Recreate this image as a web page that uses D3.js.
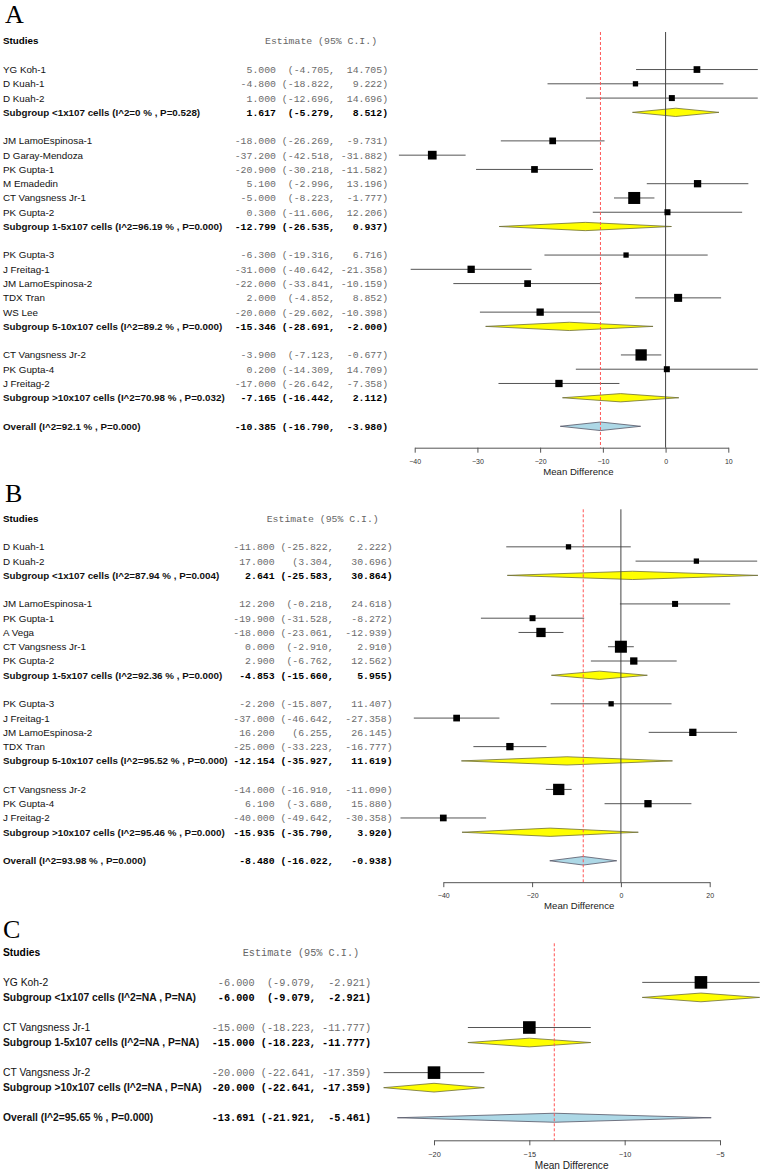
<!DOCTYPE html>
<html><head><meta charset="utf-8">
<script src="https://cdn.jsdelivr.net/npm/d3@7"></script>
<style>body{margin:0;background:#fff} text{white-space:pre}</style>
</head><body>
<svg id="chart" width="762" height="1170"></svg>
<script>
// ---------- Panel A ----------
const aNames = ["YG Koh-1","D Kuah-1","D Kuah-2","JM LamoEspinosa-1","D Garay-Mendoza","PK Gupta-1","M Emadedin","CT Vangsness Jr-1","PK Gupta-2","PK Gupta-3","J Freitag-1","JM LamoEspinosa-2","TDX Tran","WS Lee","CT Vangsness Jr-2","PK Gupta-4","J Freitag-2"];
const aGroup = [0,0,0,1,1,1,1,1,1,2,2,2,2,2,3,3,3];
const aEst = [5.0,-4.8,1.0,-18.0,-37.2,-20.9,5.1,-5.0,0.3,-6.3,-31.0,-22.0,2.0,-20.0,-3.9,0.2,-17.0];
const aLo = [-4.705,-18.822,-12.696,-26.269,-42.518,-30.218,-2.996,-8.223,-11.606,-19.316,-40.642,-33.841,-4.852,-29.602,-7.123,-14.309,-26.642];
const aHi = [14.705,9.222,14.696,-9.731,-31.882,-11.582,13.196,-1.777,12.206,6.716,-21.358,-10.159,8.852,-10.398,-0.677,14.709,-7.358];
const aWeight = [6.7,5.3,6.0,6.7,8.7,6.7,7.3,12.0,6.0,5.3,7.3,6.7,8.0,7.3,11.3,6.0,7.3];
const aSubLabel = ["Subgroup <1x107 cells (I^2=0 % , P=0.528)","Subgroup 1-5x107 cells (I^2=96.19 % , P=0.000)","Subgroup 5-10x107 cells (I^2=89.2 % , P=0.000)","Subgroup >10x107 cells (I^2=70.98 % , P=0.032)"];
const aSubEst = [1.617,-12.799,-15.346,-7.165];
const aSubLo = [-5.279,-26.535,-28.691,-16.442];
const aSubHi = [8.512,0.937,-2.000,2.112];
const aOverall = ["Overall (I^2=92.1 % , P=0.000)", -10.385, -16.790, -3.980];
const aTicks = [-40,-30,-20,-10,0,10];

// ---------- Panel B ----------
const bNames = ["D Kuah-1","D Kuah-2","JM LamoEspinosa-1","PK Gupta-1","A Vega","CT Vangsness Jr-1","PK Gupta-2","PK Gupta-3","J Freitag-1","JM LamoEspinosa-2","TDX Tran","CT Vangsness Jr-2","PK Gupta-4","J Freitag-2"];
const bGroup = [0,0,1,1,1,1,1,2,2,2,2,3,3,3];
const bEst = [-11.8,17.0,12.2,-19.9,-18.0,0.0,2.9,-2.2,-37.0,16.2,-25.0,-14.0,6.1,-40.0];
const bLo = [-25.822,3.304,-0.218,-31.528,-23.061,-2.910,-6.762,-15.807,-46.642,6.255,-33.223,-16.910,-3.680,-49.642];
const bHi = [2.222,30.696,24.618,-8.272,-12.939,2.910,12.562,11.407,-27.358,26.145,-16.777,-11.090,15.880,-30.358];
const bWeight = [5.3,5.3,6.0,6.0,9.3,12.0,7.3,5.3,6.7,7.3,7.3,11.3,7.3,6.7];
const bSubLabel = ["Subgroup <1x107 cells (I^2=87.94 % , P=0.004)","Subgroup 1-5x107 cells (I^2=92.36 % , P=0.000)","Subgroup 5-10x107 cells (I^2=95.52 % , P=0.000)","Subgroup >10x107 cells (I^2=95.46 % , P=0.000)"];
const bSubEst = [2.641,-4.853,-12.154,-15.935];
const bSubLo = [-25.583,-15.660,-35.927,-35.790];
const bSubHi = [30.864,5.955,11.619,3.920];
const bOverall = ["Overall (I^2=93.98 % , P=0.000)", -8.480, -16.022, -0.938];
const bTicks = [-40,-20,0,20];

// ---------- Panel C ----------
const cNames = ["YG Koh-2","CT Vangsness Jr-1","CT Vangsness Jr-2"];
const cGroup = [0,1,2];
const cEst = [-6.0,-15.0,-20.0];
const cLo = [-9.079,-18.223,-22.641];
const cHi = [-2.921,-11.777,-17.359];
const cWeight = [12,12,12];
const cSubLabel = ["Subgroup <1x107 cells (I^2=NA , P=NA)","Subgroup 1-5x107 cells (I^2=NA , P=NA)","Subgroup >10x107 cells (I^2=NA , P=NA)"];
const cSubEst = [-6.0,-15.0,-20.0];
const cSubLo = [-9.079,-18.223,-22.641];
const cSubHi = [-2.921,-11.777,-17.359];
const cOverall = ["Overall (I^2=95.65 % , P=0.000)", -13.691, -21.921, -5.461];
const cTicks = [-20,-15,-10,-5];

const panels = [
  {letter:"A", names:aNames, group:aGroup, est:aEst, lo:aLo, hi:aHi, w:aWeight,
   subLabel:aSubLabel, subEst:aSubEst, subLo:aSubLo, subHi:aSubHi, overall:aOverall, ticks:aTicks,
   L:{letterX:5, letterY:23, headerY:41, step:14.27, x0:414.7, x1:728.3, textX:234.7, hdrX:265, fs:9.8, mono:9.83, gap2:" ", k:1}},
  {letter:"B", names:bNames, group:bGroup, est:bEst, lo:bLo, hi:bHi, w:bWeight,
   subLabel:bSubLabel, subEst:bSubEst, subLo:bSubLo, subHi:bSubHi, overall:bOverall, ticks:bTicks,
   L:{letterX:5, letterY:502, headerY:518.3, step:14.27, x0:443.3, x1:709.7, textX:233.3, hdrX:266.7, fs:9.8, mono:9.83, gap2:"  ", k:1}},
  {letter:"C", names:cNames, group:cGroup, est:cEst, lo:cLo, hi:cHi, w:cWeight,
   subLabel:cSubLabel, subEst:cSubEst, subLo:cSubLo, subHi:cSubHi, overall:cOverall, ticks:cTicks,
   L:{letterX:3, letterY:938, headerY:952.3, step:15.04, x0:434, x1:720, textX:211.7, hdrX:242.7, fs:10.3, mono:10.23, gap2:" ", k:1.05}}
];

const svg = d3.select("#chart");
const SANS = "'Liberation Sans', Arial, sans-serif";
const MONO = "'Liberation Mono', 'Courier New', monospace";

function fmtCI(e, lo, hi, gap2){
  return e.toFixed(3).padStart(7) + " " + ("(" + lo.toFixed(3) + ",").padStart(9) + gap2 + hi.toFixed(3).padStart(7) + ")";
}

panels.forEach(p => {
  const L = p.L;
  const g = svg.append("g");
  const x = d3.scaleLinear().domain([p.ticks[0], p.ticks[p.ticks.length-1]]).range([L.x0, L.x1]);
  const size = d3.scaleLinear().domain([0, 12]).range([0, 12 * L.k]);

  // rows
  const rows = [];
  let i = 2;
  p.subLabel.forEach((lab, gi) => {
    p.names.forEach((n, k) => { if (p.group[k] === gi) rows.push({type:"study", k, row:i++}); });
    rows.push({type:"sub", g:gi, row:i++});
    i++;
  });
  rows.push({type:"overall", row:i});
  const y = r => L.headerY + r * L.step;
  const axisY = y(i + 1.5);
  const topY = L.headerY - 9;

  // letter
  g.append("text").attr("x", L.letterX).attr("y", L.letterY).text(p.letter)
    .attr("font-family", "'Liberation Serif', 'Times New Roman', serif").attr("font-size", 26).attr("fill", "#000");
  // headers
  g.append("text").attr("x", 3).attr("y", L.headerY).attr("dy", "0.35em").text("Studies")
    .attr("font-family", SANS).attr("font-size", L.fs).attr("font-weight", "bold");
  g.append("text").attr("x", L.hdrX).attr("y", L.headerY).attr("dy", "0.35em").text("Estimate (95% C.I.)")
    .attr("font-family", MONO).attr("font-size", L.mono).attr("fill", "#666");

  const allLo = d3.min(p.lo.concat(p.subLo, [p.overall[2]]));
  const allHi = d3.max(p.hi.concat(p.subHi, [p.overall[3]]));

  rows.forEach(r => {
    let label, e, lo, hi, bold, col;
    if (r.type === "study") { label = p.names[r.k]; e = p.est[r.k]; lo = p.lo[r.k]; hi = p.hi[r.k]; bold = false; }
    else if (r.type === "sub") { label = p.subLabel[r.g]; e = p.subEst[r.g]; lo = p.subLo[r.g]; hi = p.subHi[r.g]; bold = true; }
    else { label = p.overall[0]; e = p.overall[1]; lo = p.overall[2]; hi = p.overall[3]; bold = true; }
    const yy = y(r.row);
    g.append("text").attr("x", 3).attr("y", yy).attr("dy", "0.35em").text(label)
      .attr("font-family", SANS).attr("font-size", L.fs).attr("font-weight", bold ? "bold" : "normal").attr("fill", "#111");
    g.append("text").attr("x", L.textX).attr("y", yy).attr("dy", "0.35em").text(fmtCI(e, lo, hi, L.gap2))
      .attr("font-family", MONO).attr("font-size", L.mono).attr("font-weight", bold ? "bold" : "normal")
      .attr("fill", bold ? "#000" : "#6b6b6b");
    r.e = e; r.lo = lo; r.hi = hi; r.yy = yy;
  });

  // CI lines for studies
  rows.filter(r => r.type === "study").forEach(r => {
    g.append("line").attr("x1", x(r.lo)).attr("x2", x(r.hi)).attr("y1", r.yy).attr("y2", r.yy)
      .attr("stroke", "#555").attr("stroke-width", 1);
  });
  // diamonds
  rows.filter(r => r.type !== "study").forEach(r => {
    const h = (r.type === "sub" ? 0.29 : 0.3) * L.step;
    const pts = [[x(r.lo), r.yy], [x(r.e), r.yy - h], [x(r.hi), r.yy], [x(r.e), r.yy + h]];
    g.append("path").attr("d", "M" + pts.map(q => q.join(",")).join("L") + "Z")
      .attr("fill", r.type === "sub" ? "#ffff00" : "#add8e6")
      .attr("stroke", r.type === "sub" ? "#6e6e3a" : "#556")
      .attr("stroke-width", 0.8);
  });
  // zero line
  const dom = x.domain();
  if (0 >= dom[0] && 0 <= dom[1]) {
    g.append("line").attr("x1", x(0)).attr("x2", x(0)).attr("y1", topY).attr("y2", axisY)
      .attr("stroke", "#444").attr("stroke-width", 1);
  }
  // overall line
  g.append("line").attr("x1", x(p.overall[1])).attr("x2", x(p.overall[1])).attr("y1", topY).attr("y2", axisY)
    .attr("stroke", "#ff5555").attr("stroke-width", 1).attr("stroke-dasharray", "3,2");
  // squares
  rows.filter(r => r.type === "study").forEach(r => {
    const s = size(p.w[r.k]);
    g.append("rect").attr("x", x(r.e) - s/2).attr("y", r.yy - s/2).attr("width", s).attr("height", s).attr("fill", "#000");
  });
  // axis
  const ax = g.append("g").attr("transform", `translate(0,${axisY})`)
    .call(d3.axisBottom(x).tickValues(p.ticks).tickSize(5).tickSizeOuter(0).tickPadding(6).tickFormat(d3.format("d")));
  ax.select(".domain").attr("stroke", "#555");
  ax.selectAll(".tick line").attr("stroke", "#555");
  ax.selectAll(".tick text").attr("font-family", SANS).attr("font-size", 7 * L.k).attr("fill", "#333");
  g.append("text").attr("x", (x(allLo) + x(allHi)) / 2).attr("y", axisY + 27 * L.k).attr("text-anchor", "middle")
    .text("Mean Difference").attr("font-family", SANS).attr("font-size", 9.6 * L.k).attr("fill", "#222");
});
</script>
</body></html>
